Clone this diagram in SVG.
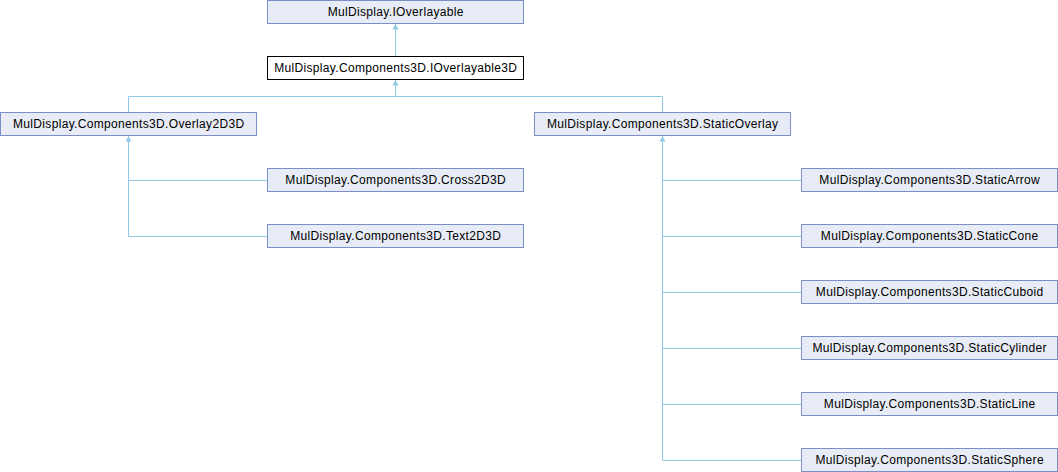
<svg xmlns="http://www.w3.org/2000/svg" width="1058" height="472" viewBox="0 0 1058 472">
<style>
.n rect{fill:#e8ecf6;stroke:#7b8fc6;stroke-width:1}
.n.cur rect{fill:#ffffff;stroke:#000000}
.n text{font-family:"Liberation Sans",Arial,sans-serif;font-size:12px;letter-spacing:0.33px;fill:#000000;text-anchor:middle}
.e path{fill:none;stroke:#92c9e8;stroke-width:1}
.e polygon{fill:#92c9e8;stroke:none}
</style>
<rect width="1058" height="472" fill="#ffffff"/>
<g id="connectors" class="e">
<path d="M395.5,57V24"/>
<polygon points="395.5,24 392.5,29.5 398.5,29.5"/>
<path d="M395.5,96.5V80"/>
<polygon points="395.5,80 392.5,85.5 398.5,85.5"/>
<path d="M128.5,112V96.5H662.5V112"/>
<path d="M128.5,236.5V136"/>
<polygon points="128.5,136 125.5,141.5 131.5,141.5"/>
<path d="M128.5,180.5H267"/>
<path d="M128.5,236.5H267"/>
<path d="M662.5,460.5V136"/>
<polygon points="662.5,136 659.5,141.5 665.5,141.5"/>
<path d="M662.5,180.5H801"/>
<path d="M662.5,236.5H801"/>
<path d="M662.5,292.5H801"/>
<path d="M662.5,348.5H801"/>
<path d="M662.5,404.5H801"/>
<path d="M662.5,460.5H801"/>
</g>
<g id="node-ioverlayable" class="n"><rect x="267.5" y="0.5" width="256" height="23"/><text x="395.7" y="16">MulDisplay.IOverlayable</text></g>
<g id="node-ioverlayable3d" class="n cur"><rect x="267.5" y="56.5" width="256" height="23"/><text x="395.7" y="72">MulDisplay.Components3D.IOverlayable3D</text></g>
<g id="node-overlay2d3d" class="n"><rect x="0.5" y="112.5" width="256" height="23"/><text x="128.7" y="128">MulDisplay.Components3D.Overlay2D3D</text></g>
<g id="node-staticoverlay" class="n"><rect x="534.5" y="112.5" width="256" height="23"/><text x="662.7" y="128">MulDisplay.Components3D.StaticOverlay</text></g>
<g id="node-cross2d3d" class="n"><rect x="267.5" y="168.5" width="256" height="23"/><text x="395.7" y="184">MulDisplay.Components3D.Cross2D3D</text></g>
<g id="node-text2d3d" class="n"><rect x="267.5" y="224.5" width="256" height="23"/><text x="395.7" y="240">MulDisplay.Components3D.Text2D3D</text></g>
<g id="node-staticarrow" class="n"><rect x="801.5" y="168.5" width="256" height="23"/><text x="929.7" y="184">MulDisplay.Components3D.StaticArrow</text></g>
<g id="node-staticcone" class="n"><rect x="801.5" y="224.5" width="256" height="23"/><text x="929.7" y="240">MulDisplay.Components3D.StaticCone</text></g>
<g id="node-staticcuboid" class="n"><rect x="801.5" y="280.5" width="256" height="23"/><text x="929.7" y="296">MulDisplay.Components3D.StaticCuboid</text></g>
<g id="node-staticcylinder" class="n"><rect x="801.5" y="336.5" width="256" height="23"/><text x="929.7" y="352">MulDisplay.Components3D.StaticCylinder</text></g>
<g id="node-staticline" class="n"><rect x="801.5" y="392.5" width="256" height="23"/><text x="929.7" y="408">MulDisplay.Components3D.StaticLine</text></g>
<g id="node-staticsphere" class="n"><rect x="801.5" y="448.5" width="256" height="23"/><text x="929.7" y="464">MulDisplay.Components3D.StaticSphere</text></g>
</svg>
